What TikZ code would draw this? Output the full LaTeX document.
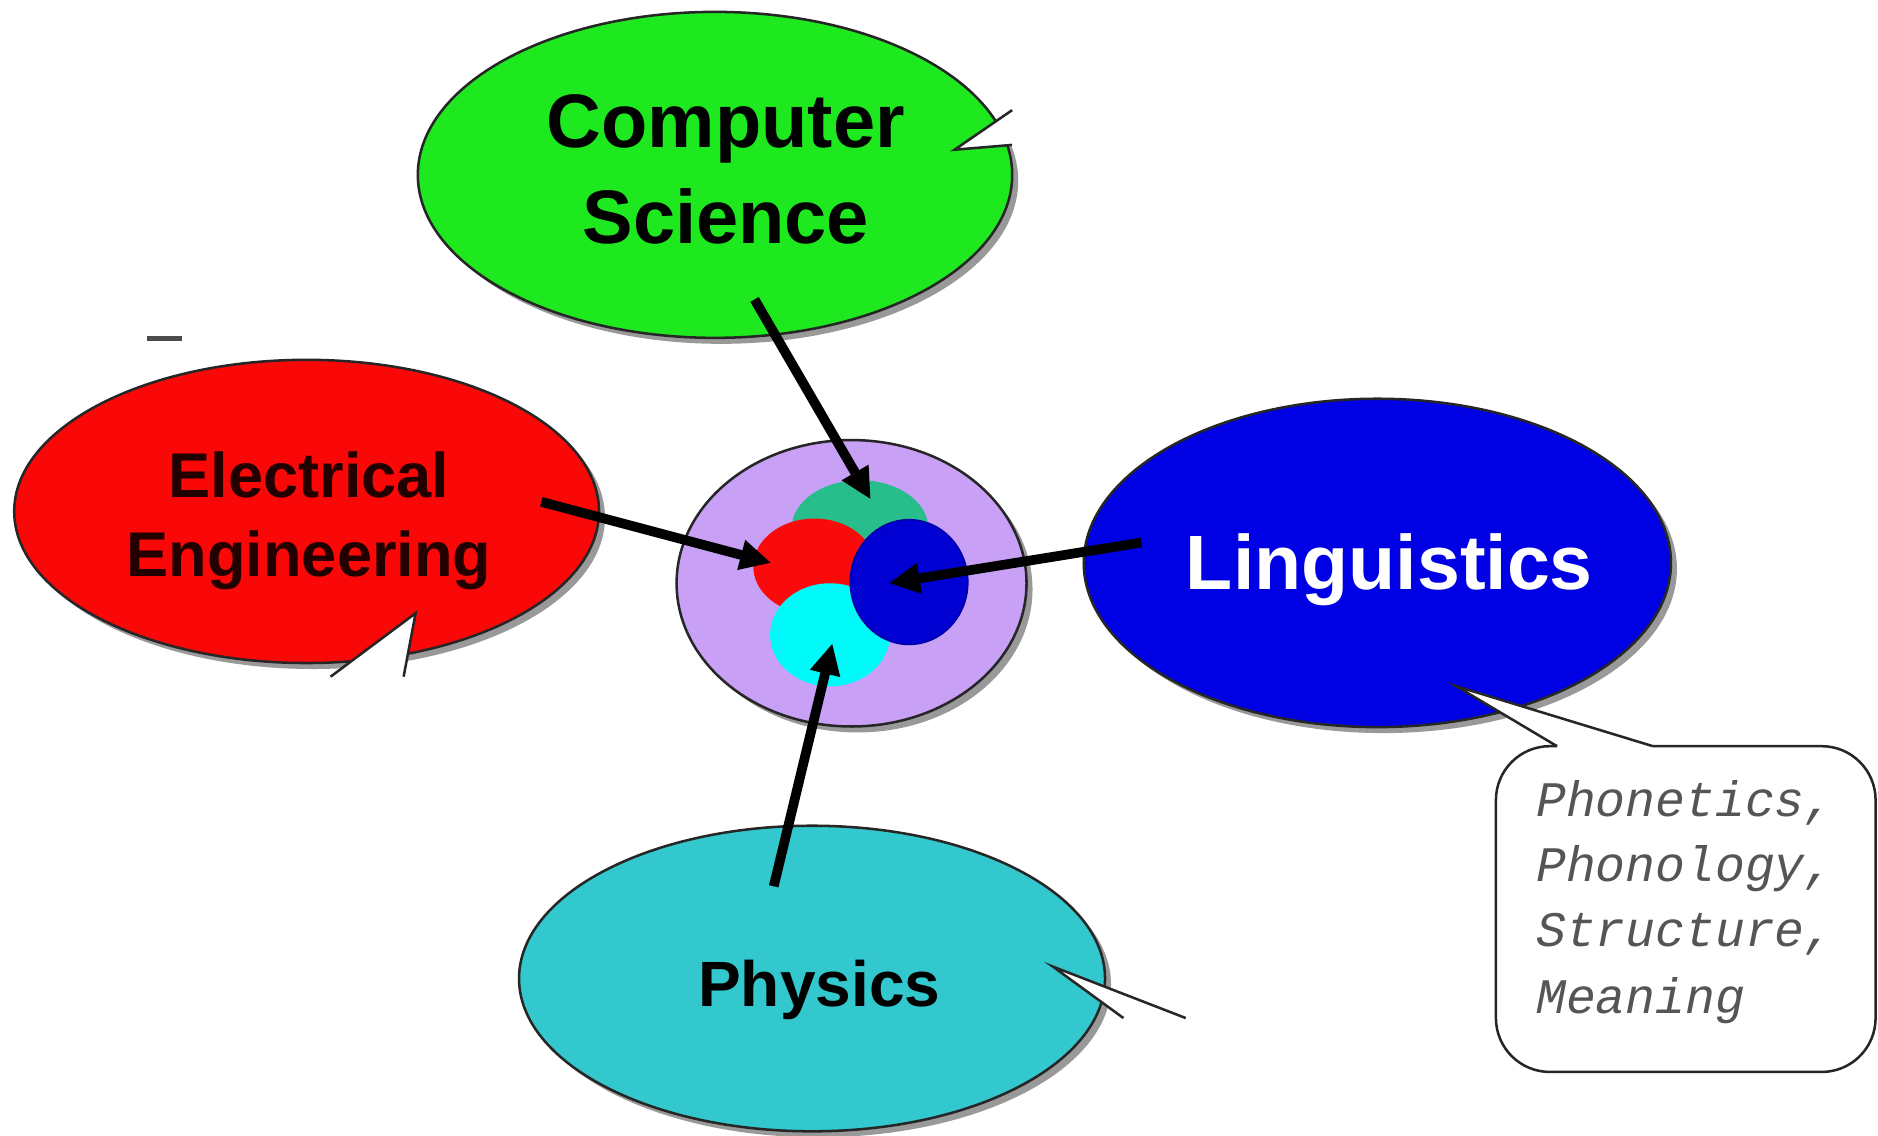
\documentclass[tikz,border=0pt]{standalone}
\usepackage{fontspec}
\setmainfont{Liberation Sans}
\newfontfamily\monoit{Liberation Mono}
\usetikzlibrary{shapes.geometric,arrows.meta,shadows}
\definecolor{csgreen}{RGB}{30,232,30}
\definecolor{eered}{RGB}{250,8,8}
\definecolor{lingblue}{RGB}{0,0,228}
\definecolor{phteal}{RGB}{50,200,205}
\definecolor{lav}{RGB}{200,160,245}
\definecolor{inteal}{RGB}{40,190,140}
\definecolor{inred}{RGB}{250,10,10}
\definecolor{incyan}{RGB}{0,250,250}
\definecolor{inblue}{RGB}{0,0,210}
\definecolor{eetext}{RGB}{35,0,0}
\definecolor{boxtext}{RGB}{85,85,85}
\begin{document}
\begin{tikzpicture}[x=0.01cm,y=-0.01cm,
  bubble/.style={ellipse, draw=black!85, line width=0.6pt, inner sep=0pt,
    drop shadow={shadow xshift=0.05cm, shadow yshift=-0.05cm, fill=black!40, opacity=1}},
  blob/.style={ellipse, inner sep=0pt},
  lbl/.style={font=\bfseries, anchor=base, inner sep=0pt},
  arr/.style={line width=2.3pt, -{Triangle[length=0.26cm,width=0.24cm]}, black},
  notch/.style={fill=white, draw=none},
  notchline/.style={draw=black!85, line width=0.6pt},
  boxline/.style={font={\monoit\itshape\fontsize{11.8}{14}\selectfont}, text=boxtext, anchor=base west, inner sep=0pt},
]
\useasboundingbox (0,0) rectangle (1568,948);
\fill[white] (0,0) rectangle (1568,948);

% outer bubbles
\node[bubble, fill=csgreen, minimum width=4.96cm, minimum height=2.72cm] (cs) at (597,146) {};
\node[bubble, fill=eered, minimum width=4.88cm, minimum height=2.53cm] (ee) at (256,427) {};
\node[bubble, fill=lingblue, minimum width=4.90cm, minimum height=2.74cm] (ling) at (1150,470) {};
\node[bubble, fill=phteal, minimum width=4.89cm, minimum height=2.55cm] (ph) at (678,817) {};
\node[bubble, fill=lav, minimum width=2.92cm, minimum height=2.39cm] (core) at (711,487) {};

% inner blobs
\node[blob, fill=inteal, minimum width=1.14cm, minimum height=0.80cm] (bteal) at (718,441) {};
\node[blob, fill=inred, minimum width=1.02cm, minimum height=0.80cm] (bred) at (680,473) {};
\node[blob, fill=incyan, minimum width=1.00cm, minimum height=0.86cm] (bcyan) at (693,530) {};
\node[blob, fill=inblue, draw=inblue!80!black, minimum width=0.98cm, minimum height=1.04cm] (bblue) at (759,486) {};

% callout notches
\coordinate (csV) at (797,125); \coordinate (csA) at (845,92); \coordinate (csB) at (845,121);
\fill[notch] (csA) -- (csV) -- (csB) -- cycle;
\draw[notchline] (csA) -- (csV) -- (csB);

\coordinate (eeV) at (347,512); \coordinate (eeA) at (276,565); \coordinate (eeB) at (337,565);
\fill[notch] (eeA) -- (eeV) -- (eeB) -- cycle;
\draw[notchline] (eeA) -- (eeV) -- (eeB);

\coordinate (phV) at (879,807); \coordinate (phA) at (938,850); \coordinate (phB) at (990,850);
\fill[notch] (phA) -- (phV) -- (phB) -- cycle;
\draw[notchline] (phA) -- (phV) -- (phB);

\coordinate (lgV) at (1216,573); \coordinate (lgA) at (1300,623); \coordinate (lgB) at (1380,623);
\fill[notch] (lgA) -- (lgV) -- (lgB) -- cycle;
\draw[notchline] (lgA) -- (lgV) -- (lgB);

% text box of the Linguistics callout
\draw[notchline, rounded corners=0.45cm] (lgA) -- (1249,623) -- (1249,895) -- (1566,895) -- (1566,623) -- (lgB);

% small remnant line
\draw[black!70, line width=1.2pt] (123,283) -- (152,283);

% labels
\node[lbl, font=\bfseries\fontsize{18}{20}\selectfont] (csT1) at (606,123) {Computer};
\node[lbl, font=\bfseries\fontsize{18}{20}\selectfont] (csT2) at (606,203) {Science};
\node[lbl, text=eetext, font=\bfseries\fontsize{15}{17}\selectfont] (eeT1) at (258,415) {Electrical};
\node[lbl, text=eetext, font=\bfseries\fontsize{15}{17}\selectfont] (eeT2) at (258,481) {Engineering};
\node[lbl, text=white, font=\bfseries\fontsize{18.3}{20}\selectfont] (lgT) at (1160,492) {Linguistics};
\node[lbl, font=\bfseries\fontsize{15.2}{17}\selectfont] (phT) at (684,840) {Physics};

\node[boxline] (bx1) at (1282,682) {Phonetics,};
\node[boxline] (bx2) at (1282,736) {Phonology,};
\node[boxline] (bx3) at (1282,790) {Structure,};
\node[boxline] (bx4) at (1282,846) {Meaning};

% arrows
\coordinate (csS) at (630,250); \coordinate (csE) at (727,417);
\coordinate (eeS) at (452,419); \coordinate (eeE) at (644,470);
\coordinate (lgS) at (953,453); \coordinate (lgE) at (742,487);
\coordinate (phS) at (646,740); \coordinate (phE) at (695,537);
\draw[arr] (csS) -- (csE);
\draw[arr] (eeS) -- (eeE);
\draw[arr] (lgS) -- (lgE);
\draw[arr] (phS) -- (phE);
\end{tikzpicture}
\end{document}
